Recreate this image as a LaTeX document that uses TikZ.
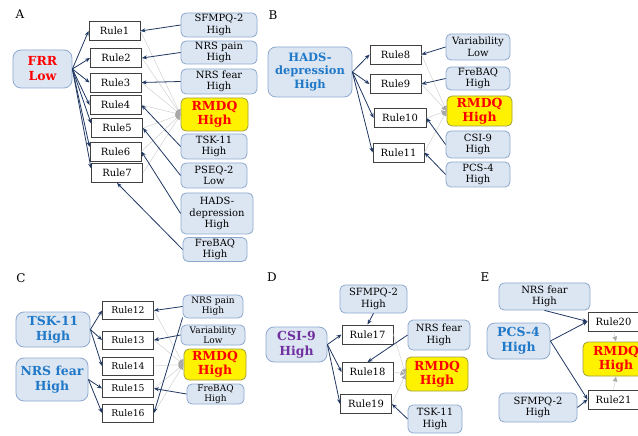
\documentclass[tikz,border=0pt]{standalone}
\usepackage{fontspec}
\setmainfont{DejaVu Serif}
\usetikzlibrary{arrows.meta}
\definecolor{srcfill}{HTML}{DCE6F2}
\definecolor{srcborder}{HTML}{8EA9CF}
\definecolor{srcblue}{HTML}{1F78C8}
\definecolor{navy}{HTML}{203864}
\definecolor{ruleborder}{HTML}{404040}
\definecolor{olivebd}{HTML}{9E9E3C}
\definecolor{grayline}{HTML}{D2D2D2}
\definecolor{graytip}{HTML}{A8A8A8}
\definecolor{purp}{HTML}{7030A0}
\tikzset{
  src/.style={draw=srcborder, fill=srcfill, rounded corners=5bp, align=center, inner sep=0pt, line width=0.8bp, font=\fontsize{10}{11.5}\selectfont},
  srcs/.style={src, font=\fontsize{9}{10}\selectfont},
  bigsrc/.style={src, rounded corners=8bp, text=srcblue, font=\fontsize{12.5}{15}\selectfont\bfseries},
  bigsrcm/.style={bigsrc, font=\fontsize{11.5}{14}\selectfont\bfseries},
  rulebox/.style={draw=ruleborder, fill=white, inner sep=0pt, minimum width=51bp, minimum height=19bp, line width=0.9bp, font=\fontsize{10}{12}\selectfont},
  rulesm/.style={rulebox, font=\fontsize{9.3}{11}\selectfont, minimum height=18bp},
  rmdq/.style={draw=olivebd, fill=yellow, rounded corners=5bp, align=center, inner sep=0pt, line width=0.8bp, text=red, font=\fontsize{12.5}{14.5}\selectfont\bfseries},
  arr/.style={draw=navy, line width=0.8bp, -{Stealth[length=5bp,width=4bp]}},
  gry/.style={draw=grayline, line width=0.5bp, -{Latex[length=5bp,width=5bp,color=graytip]}},
  panel/.style={font=\fontsize{12}{12}\selectfont}
}
\begin{document}
\begin{tikzpicture}[x=1bp,y=-1bp]
\useasboundingbox (0,0) rectangle (638,436);
\clip (0,0) rectangle (638,436);
\fill[white] (0,0) rectangle (638,436);

% ---------------- Panel A ----------------
\node[panel] (labA) at (20,14) {A};
\node[bigsrc, text=red, minimum width=59bp, minimum height=38bp] (frr) at (42.5,69) {FRR\\Low};
\node[rulebox] (r1) at (114.5,31) {Rule1};
\node[rulebox] (r2) at (116,58) {Rule2};
\node[rulebox] (r3) at (115.5,82.5) {Rule3};
\node[rulebox] (r4) at (115.5,105) {Rule4};
\node[rulebox] (r5) at (117,128) {Rule5};
\node[rulebox] (r6) at (115.5,151.5) {Rule6};
\node[rulebox] (r7) at (117,173) {Rule7};
\node[src, minimum width=76bp, minimum height=24bp] (a1) at (219,25) {SFMPQ-2\\High};
\node[src, minimum width=76bp, minimum height=23bp] (a2) at (219,52.5) {NRS pain\\High};
\node[src, minimum width=76bp, minimum height=25bp] (a3) at (219,81.5) {NRS fear\\High};
\node[rmdq, minimum width=67bp, minimum height=33bp] (mA) at (214.5,114.5) {RMDQ\\High};
\node[src, minimum width=66bp, minimum height=25bp] (a4) at (214,146.5) {TSK-11\\High};
\node[src, minimum width=66bp, minimum height=25bp] (a5) at (214,175.5) {PSEQ-2\\Low};
\node[src, minimum width=72bp, minimum height=41bp] (a6) at (217,213.5) {HADS-\\depression\\High};
\node[src, minimum width=64bp, minimum height=24bp] (a7) at (215,249.5) {FreBAQ\\High};
\foreach \r in {r1,r2,r3,r4,r5,r6,r7} \draw[gry] (\r.east) -- (mA.west);
\draw[arr] (frr.east) -- (r1.west);
\draw[arr] (frr.east) -- (r2.west);
\draw[arr] (frr.east) -- (r3.west);
\draw[arr] (frr.east) -- (r4.west);
\draw[arr] (frr.east) -- (r5.170);
\draw[arr] (frr.east) -- (r6.170);
\draw[arr] (frr.east) -- (r7.170);
\draw[arr] (a1.west) -- (r1.east);
\draw[arr] (a2.west) -- (r2.east);
\draw[arr] (a3.west) -- (r3.east);
\draw[arr] (a4.west) -- (r4.east);
\draw[arr] (a5.west) -- (r5.east);
\draw[arr] (a6.west) -- (r6.east);
\draw[arr] (a7.west) -- (r7.south);

% ---------------- Panel B ----------------
\node[panel] (labB) at (273,15) {B};
\node[bigsrcm, minimum width=84bp, minimum height=50bp] (hads) at (310,72) {HADS-\\depression\\High};
\node[rulebox] (r8) at (395.5,54.5) {Rule8};
\node[rulebox] (r9) at (395.5,84) {Rule9};
\node[rulebox, minimum width=52bp] (r10) at (400,118) {Rule10};
\node[rulebox] (r11) at (398.5,152.5) {Rule11};
\node[src, minimum width=64bp, minimum height=26bp] (b1) at (478,47) {Variability\\Low};
\node[src, minimum width=64bp, minimum height=23bp] (b2) at (478,78.5) {FreBAQ\\High};
\node[rmdq, minimum width=65bp, minimum height=30bp] (mB) at (479.5,111) {RMDQ\\High};
\node[src, minimum width=64bp, minimum height=27bp] (b3) at (478,144.5) {CSI-9\\High};
\node[src, minimum width=64bp, minimum height=25bp] (b4) at (478,174.5) {PCS-4\\High};
\foreach \r in {r8,r9,r10,r11} \draw[gry] (\r.east) -- (mB.west);
\foreach \r in {r8,r9,r10,r11} \draw[arr] (hads.east) -- (\r.west);
\draw[arr] (b1.west) -- (r8.east);
\draw[arr] (b2.west) -- (r9.east);
\draw[arr] (b3.west) -- (r10.east);
\draw[arr] (b4.west) -- (r11.east);

% ---------------- Panel C ----------------
\node[panel] (labC) at (21,278) {C};
\node[bigsrc, minimum width=74bp, minimum height=35bp] (ctsk) at (53,329.5) {TSK-11\\High};
\node[bigsrc, minimum width=72bp, minimum height=43bp] (cfear) at (52,379.5) {NRS fear\\High};
\node[rulesm] (r12) at (128,310.5) {Rule12};
\node[rulesm] (r13) at (128,340) {Rule13};
\node[rulesm] (r14) at (128,366) {Rule14};
\node[rulesm] (r15) at (128,388.5) {Rule15};
\node[rulesm] (r16) at (128,413) {Rule16};
\node[srcs, minimum width=60bp, minimum height=23bp] (c1) at (213,306.5) {NRS pain\\High};
\node[srcs, minimum width=64bp, minimum height=20bp] (c2) at (213,335) {Variability\\Low};
\node[rmdq, minimum width=62bp, minimum height=31bp] (mC) at (215,364.5) {RMDQ\\High};
\node[srcs, minimum width=57bp, minimum height=20bp] (c3) at (215.5,394) {FreBAQ\\High};
\foreach \r in {r12,r13,r14,r15,r16} \draw[gry] (\r.east) -- (mC.west);
\draw[arr] (ctsk.east) -- (r12.west);
\draw[arr] (ctsk.east) -- (r13.west);
\draw[arr] (ctsk.east) -- (r14.west);
\draw[arr] (cfear.east) -- (r15.west);
\draw[arr] (cfear.east) -- (r16.west);
\draw[arr] (c1.west) -- (r12.east);
\draw[arr] (c1.200) -- (r16.east);
\draw[arr] (c2.west) -- (r13.east);
\draw[arr] (c3.west) -- (r15.east);

% ---------------- Panel D ----------------
\node[panel] (labD) at (272,277) {D};
\node[src, minimum width=67bp, minimum height=28bp] (d1) at (373.5,299) {SFMPQ-2\\High};
\node[bigsrc, text=purp, minimum width=61bp, minimum height=35bp] (csi) at (296.5,344.5) {CSI-9\\High};
\node[rulebox] (r17) at (367.5,334.5) {Rule17};
\node[rulebox] (r18) at (367.5,372) {Rule18};
\node[rulebox] (r19) at (366,404) {Rule19};
\node[src, minimum width=62bp, minimum height=30bp] (d2) at (439,335) {NRS fear\\High};
\node[rmdq, minimum width=62bp, minimum height=34bp] (mD) at (437,374) {RMDQ\\High};
\node[src, minimum width=54bp, minimum height=28bp] (d3) at (435,419) {TSK-11\\High};
\foreach \r in {r17,r18,r19} \draw[gry] (\r.east) -- (mD.west);
\foreach \r in {r17,r18,r19} \draw[arr] (csi.east) -- (\r.west);
\draw[arr] (d1.south) -- (r17.north);
\draw[arr] (d2.west) -- (r18.north);
\draw[arr] (d3.west) -- (r19.east);

% ---------------- Panel E ----------------
\node[panel] (labE) at (485,277) {E};
\node[src, minimum width=91bp, minimum height=27bp] (e1) at (544.5,296.5) {NRS fear\\High};
\node[bigsrc, minimum width=63bp, minimum height=36bp] (pcs) at (518.5,341) {PCS-4\\High};
\node[src, minimum width=78bp, minimum height=29bp] (e2) at (538,407.5) {SFMPQ-2\\High};
\node[rulebox] (r20) at (613.5,321.5) {Rule20};
\node[rmdq, minimum width=66bp, minimum height=34bp] (mE) at (616,359) {RMDQ\\High};
\node[rulebox] (r21) at (613.5,399.5) {Rule21};
\draw[gry] (r20.south) -- (mE.north);
\draw[gry] (r21.north) -- (mE.south);
\draw[arr] (e1.south) -- (r20.west);
\draw[arr] (pcs.east) -- (r20.west);
\draw[arr] (pcs.east) -- (r21.west);
\draw[arr] (e2.east) -- (r21.west);
\end{tikzpicture}
\end{document}
